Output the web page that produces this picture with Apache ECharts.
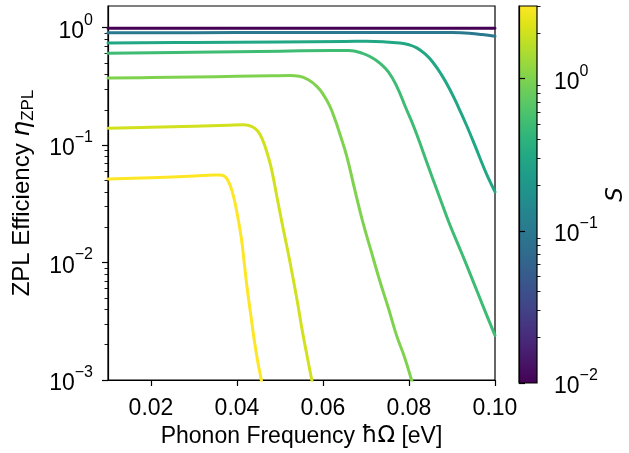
<!DOCTYPE html>
<html>
<head>
<meta charset="utf-8">
<script src="https://cdn.jsdelivr.net/npm/echarts@6/dist/echarts.min.js"></script>
<style>
  html, body { margin: 0; padding: 0; background: #ffffff; }
  #chart { width: 629px; height: 453px; }
</style>
</head>
<body>
<div id="chart"></div>
<script>
// Huang–Rhys factors S of the plotted curves (colour scale runs 0.01 … 3, log)
const huangRhys = [0.01, 0.1, 0.3, 0.5, 1, 2, 3];
const sRange = [0.01, 3];

// ZPL efficiency η_ZPL versus phonon energy ħΩ [eV], one list per S
const etaS001 = [[0.010, 0.990], [0.055, 0.990], [0.100, 0.989]];
const etaS01 = [[0.010, 0.905], [0.030, 0.907], [0.050, 0.910], [0.070, 0.912], [0.085, 0.912],
  [0.090, 0.908], [0.094, 0.895], [0.097, 0.874], [0.100, 0.845]];
const etaS03 = [[0.010, 0.741], [0.030, 0.749], [0.050, 0.757], [0.065, 0.764], [0.0700, 0.765],
  [0.0740, 0.758], [0.0778, 0.740], [0.0800, 0.715], [0.0818, 0.673], [0.0838, 0.595],
  [0.0855, 0.510], [0.0875, 0.400], [0.0895, 0.298], [0.0915, 0.210], [0.0934, 0.147],
  [0.0953, 0.100], [0.0972, 0.0670], [0.0986, 0.0510], [0.1000, 0.040]];
const etaS05 = [[0.010, 0.607], [0.030, 0.618], [0.050, 0.630], [0.0620, 0.640], [0.0660, 0.638],
  [0.0692, 0.605], [0.0712, 0.560], [0.0732, 0.500], [0.0752, 0.420], [0.0771, 0.320],
  [0.0792, 0.210], [0.0813, 0.138], [0.0834, 0.0850], [0.0855, 0.0520], [0.0875, 0.0330],
  [0.0895, 0.0210], [0.0915, 0.0140], [0.0934, 0.0095], [0.0960, 0.0055], [0.0983, 0.0034],
  [0.1000, 0.0024]];
const etaS1 = [[0.010, 0.372], [0.020, 0.376], [0.030, 0.380], [0.040, 0.385], [0.048, 0.389],
  [0.0522, 0.391], [0.0545, 0.386], [0.0565, 0.362], [0.0585, 0.318], [0.0600, 0.272],
  [0.0615, 0.218], [0.0628, 0.165], [0.0640, 0.122], [0.0655, 0.0810], [0.0673, 0.0430],
  [0.0692, 0.0225], [0.0712, 0.0125], [0.0732, 0.0070], [0.0752, 0.0041], [0.0771, 0.0024],
  [0.0790, 0.00155], [0.0806, 0.00100], [0.0815, 0.00080]];
const etaS2 = [[0.010, 0.139], [0.020, 0.142], [0.030, 0.145], [0.038, 0.148], [0.0415, 0.149],
  [0.0435, 0.144], [0.0448, 0.132], [0.0459, 0.112], [0.0470, 0.086], [0.0480, 0.063],
  [0.0493, 0.036], [0.0506, 0.0206], [0.0518, 0.0126], [0.0529, 0.0078], [0.0541, 0.0045],
  [0.0552, 0.0026], [0.0563, 0.0016], [0.0573, 0.00104], [0.0580, 0.00078]];
const etaS3 = [[0.010, 0.0515], [0.020, 0.0528], [0.030, 0.0545], [0.0345, 0.0556], [0.0360, 0.0557],
  [0.0370, 0.0545], [0.0379, 0.0500], [0.0389, 0.0400], [0.0398, 0.0290], [0.0410, 0.0162],
  [0.0417, 0.0098], [0.0424, 0.0059], [0.0432, 0.0036], [0.0440, 0.0022], [0.0448, 0.00145],
  [0.0457, 0.00098], [0.0463, 0.00075]];
const curves = [etaS001, etaS01, etaS03, etaS05, etaS1, etaS2, etaS3];

// tick positions
const freqTicks = [0.02, 0.04, 0.06, 0.08, 0.10];
const etaMajorTicks = [0.001, 0.01, 0.1, 1];
const sMajorTicks = [0.01, 0.1, 1];

function minorLogTicks(lo, hi) {
  const out = [];
  for (let d = lo; d < hi * 10; d *= 10) {
    for (let k = 2; k <= 9; k++) {
      const v = +(k * d).toPrecision(3);
      if (v >= lo && v <= hi) out.push(v);
    }
  }
  return out;
}
const etaMinorTicks = minorLogTicks(0.001, 1.53);
const sMinorTicks = minorLogTicks(0.01, 3);

// viridis colour map
const viridis = ['#440154', '#471365', '#482475', '#463480', '#414487', '#3b528b', '#355f8d',
  '#2f6c8e', '#2a788e', '#25848e', '#21918c', '#1e9c89', '#22a884', '#2fb47c', '#44bf70',
  '#5ec962', '#7ad151', '#9bd93c', '#bddf26', '#dfe318', '#fde725'];

function hexToRgb(h) {
  return [parseInt(h.slice(1, 3), 16), parseInt(h.slice(3, 5), 16), parseInt(h.slice(5, 7), 16)];
}
function viridisAt(f) {
  f = Math.min(1, Math.max(0, f));
  const pos = f * (viridis.length - 1);
  const i = Math.min(viridis.length - 2, Math.floor(pos));
  const t = pos - i;
  const a = hexToRgb(viridis[i]), b = hexToRgb(viridis[i + 1]);
  const c = a.map((v, k) => Math.round(v + (b[k] - v) * t));
  return 'rgb(' + c.join(',') + ')';
}
function colorForS(s) {
  return viridisAt(Math.log10(s / sRange[0]) / Math.log10(sRange[1] / sRange[0]));
}

const FONT = '"Liberation Sans", Arial, sans-serif';
const MATH = '"DejaVu Sans", sans-serif';
const TEXT_SIZE = 23;
const SCRIPT_SIZE = 16;

// "10" with a raised exponent
function powRich(side) {
  return {
    b: { fontFamily: FONT, fontSize: TEXT_SIZE, color: '#000', verticalAlign: 'bottom', align: side },
    p: { fontFamily: FONT, fontSize: SCRIPT_SIZE, color: '#000', verticalAlign: 'top', align: side,
         padding: [0, 0, 15, 0] }
  };
}
function powLabel(v) {
  const e = Math.round(Math.log10(v));
  return '{b|10}{p|' + (e < 0 ? '\u2212' + (-e) : String(e)) + '}';
}

const colorbarFill = new echarts.graphic.LinearGradient(0, 1, 0, 0,
  viridis.map((c, i) => ({ offset: i / (viridis.length - 1), color: c })));

const axisLineStyle = { color: '#000', width: 1.2 };
const minorTickStyle = { color: '#000', width: 0.9 };

const chart = echarts.init(document.getElementById('chart'), null, { renderer: 'canvas' });
chart.setOption({
  animation: false,
  backgroundColor: '#ffffff',
  grid: [
    { left: 108, top: 6, width: 387, height: 377, show: true, borderColor: '#000', borderWidth: 1.2,
      backgroundColor: 'transparent', containLabel: false },
    { left: 519, top: 6, width: 20, height: 377, show: true, borderColor: '#000', borderWidth: 1.2,
      backgroundColor: colorbarFill, containLabel: false }
  ],
  xAxis: [
    {
      gridIndex: 0, type: 'value', min: 0.01, max: 0.1,
      axisLine: { show: true, lineStyle: axisLineStyle },
      axisTick: { show: true, customValues: freqTicks, length: 6, lineStyle: axisLineStyle },
      axisLabel: { customValues: freqTicks, formatter: v => v.toFixed(2), margin: 17,
        fontFamily: FONT, fontSize: TEXT_SIZE, color: '#000' },
      splitLine: { show: false },
      name: '{t|Phonon Frequency }{m|\u0127\u03a9}{t| [eV]}',
      nameLocation: 'middle', nameGap: 45,
      nameTextStyle: { rich: {
        t: { fontFamily: FONT, fontSize: TEXT_SIZE, color: '#000' },
        m: { fontFamily: MATH, fontSize: TEXT_SIZE, color: '#000' }
      } }
    },
    { gridIndex: 1, type: 'value', min: 0, max: 1, show: false }
  ],
  yAxis: [
    {
      gridIndex: 0, type: 'log', logBase: 10, min: 0.001, max: 1.53, position: 'left',
      axisLine: { show: true, lineStyle: axisLineStyle },
      axisTick: { show: true, customValues: etaMajorTicks, length: 6, lineStyle: axisLineStyle },
      axisLabel: { customValues: etaMajorTicks, formatter: powLabel, rich: powRich('right'), margin: 15 },
      splitLine: { show: false }, minorTick: { show: false },
      name: '{a|ZPL Efficiency }{e|\u03b7}{s|ZPL}',
      nameLocation: 'middle', nameRotate: 90, nameGap: 71,
      nameTextStyle: { rich: {
        a: { fontFamily: FONT, fontSize: 24, color: '#000', verticalAlign: 'top' },
        e: { fontFamily: MATH, fontStyle: 'italic', fontSize: 25, color: '#000', verticalAlign: 'top' },
        s: { fontFamily: FONT, fontSize: 17, color: '#000', verticalAlign: 'bottom', padding: [10, 0, 0, 0] }
      } }
    },
    {
      gridIndex: 0, type: 'log', logBase: 10, min: 0.001, max: 1.53, position: 'left',
      axisLine: { show: false },
      axisTick: { show: true, customValues: etaMinorTicks, length: 3.5, lineStyle: minorTickStyle },
      axisLabel: { show: false }, splitLine: { show: false }
    },
    {
      gridIndex: 1, type: 'log', logBase: 10, min: sRange[0], max: sRange[1], position: 'right',
      axisLine: { show: true, lineStyle: axisLineStyle },
      axisTick: { show: true, customValues: sMajorTicks, length: 6, lineStyle: axisLineStyle },
      axisLabel: { customValues: sMajorTicks, formatter: powLabel, rich: powRich('left'), margin: 17 },
      splitLine: { show: false },
      name: 'S', nameLocation: 'middle', nameRotate: 90, nameGap: 68,
      nameTextStyle: { fontFamily: MATH, fontStyle: 'italic', fontSize: TEXT_SIZE, color: '#000' }
    },
    {
      gridIndex: 1, type: 'log', logBase: 10, min: sRange[0], max: sRange[1], position: 'right',
      axisLine: { show: false },
      axisTick: { show: true, customValues: sMinorTicks, length: 3.5, lineStyle: minorTickStyle },
      axisLabel: { show: false }, splitLine: { show: false }
    }
  ],
  series: curves.map((pts, i) => ({
    type: 'line',
    name: 'S = ' + huangRhys[i],
    xAxisIndex: 0, yAxisIndex: 0,
    data: pts,
    showSymbol: false,
    smooth: 0.45,
    clip: true,
    lineStyle: { color: colorForS(huangRhys[i]), width: 3, cap: 'round', join: 'round' },
    z: 2 + i
  }))
});
</script>
</body>
</html>
